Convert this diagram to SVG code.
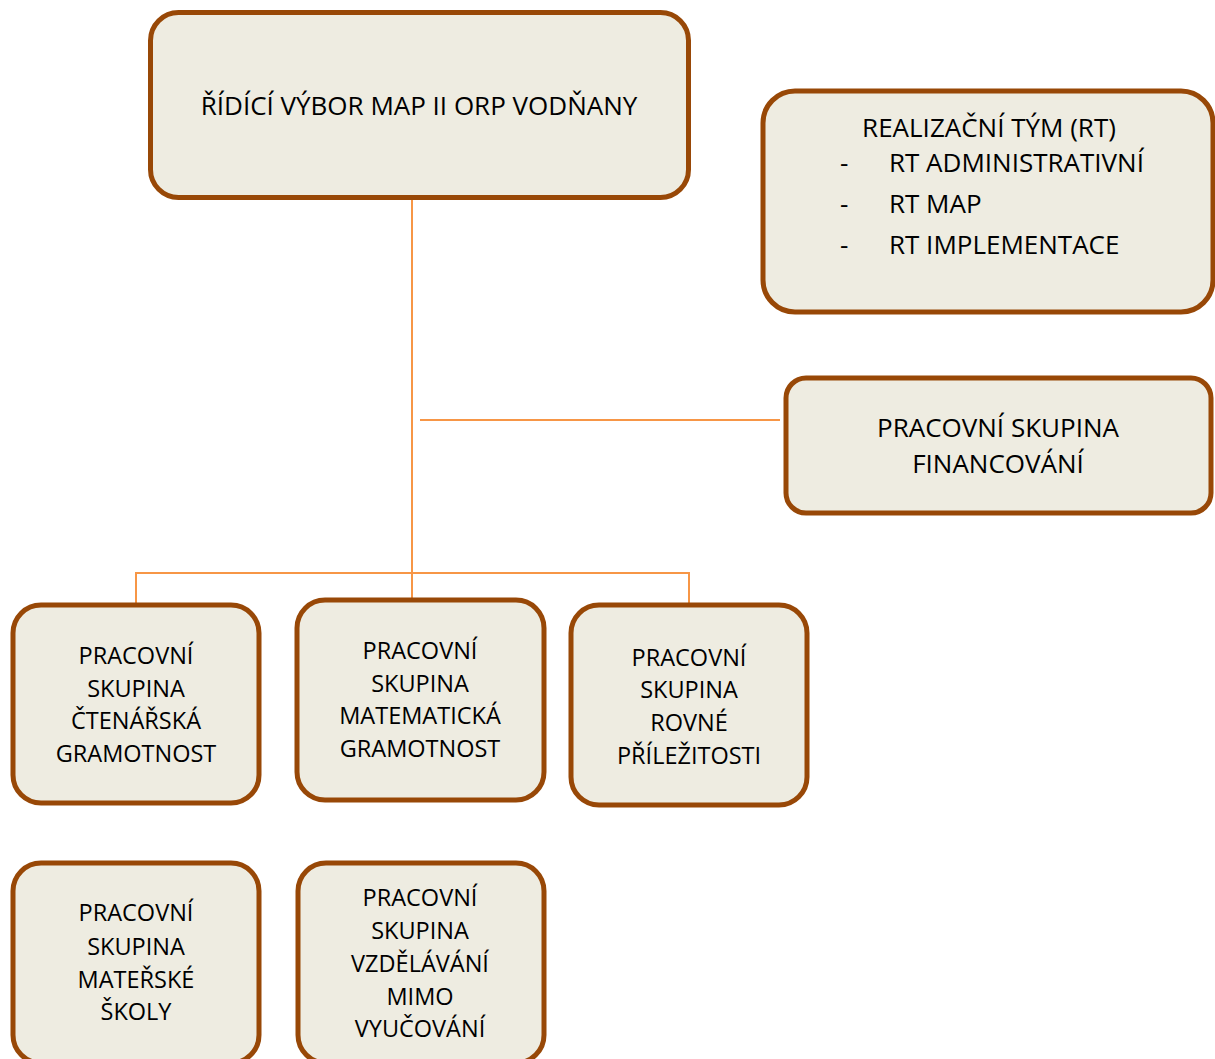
<svg xmlns="http://www.w3.org/2000/svg" width="1215" height="1059" viewBox="0 0 1215 1059">
<style>
.box{fill:#EEECE1;stroke:#984807;stroke-width:5}
.lbl{font-family:"Open Sans","Noto Sans",sans-serif;fill:#000;text-anchor:middle}
.s{font-size:23.5px}
.m{font-size:26px}
.l{font-size:26px}
.st{text-anchor:start}
.conn{stroke:#F79646;stroke-width:2;fill:none}
</style>
<rect width="1215" height="1059" fill="#fff"/>
<g id="connectors">
<line class="conn" x1="412" y1="198" x2="412" y2="598"/>
<polyline class="conn" points="136,604 136,573 689,573 689,604"/>
<line class="conn" x1="420" y1="420" x2="780" y2="420"/>
</g>
<g id="ridici-vybor">
<rect class="box" x="150.5" y="12.5" width="538" height="185" rx="28"/>
<text class="lbl l" x="419" y="115">ŘÍDÍCÍ VÝBOR MAP II ORP VODŇANY</text>
</g>
<g id="realizacni-tym">
<rect class="box" x="763" y="91" width="450" height="221" rx="32"/>
<text class="lbl m" x="989" y="137">REALIZAČNÍ TÝM (RT)</text>
<text class="lbl m st" x="840" y="172">-</text>
<text class="lbl m st" x="889" y="172">RT ADMINISTRATIVNÍ</text>
<text class="lbl m st" x="840" y="213">-</text>
<text class="lbl m st" x="889" y="213">RT MAP</text>
<text class="lbl m st" x="840" y="254">-</text>
<text class="lbl m st" x="889" y="254">RT IMPLEMENTACE</text>
</g>
<g id="ps-financovani">
<rect class="box" x="786" y="378" width="425" height="135" rx="20"/>
<text class="lbl m" x="998" y="437">PRACOVNÍ SKUPINA</text>
<text class="lbl m" x="998" y="473">FINANCOVÁNÍ</text>
</g>
<g id="ps-ctenarska">
<rect class="box" x="13" y="605" width="246" height="198" rx="28"/>
<text class="lbl s" x="136" y="664">PRACOVNÍ</text>
<text class="lbl s" x="136" y="697">SKUPINA</text>
<text class="lbl s" x="136" y="729">ČTENÁŘSKÁ</text>
<text class="lbl s" x="136" y="762">GRAMOTNOST</text>
</g>
<g id="ps-matematicka">
<rect class="box" x="297" y="600" width="247" height="200" rx="28"/>
<text class="lbl s" x="420" y="659">PRACOVNÍ</text>
<text class="lbl s" x="420" y="692">SKUPINA</text>
<text class="lbl s" x="420" y="724">MATEMATICKÁ</text>
<text class="lbl s" x="420" y="757">GRAMOTNOST</text>
</g>
<g id="ps-rovne">
<rect class="box" x="571" y="605" width="236" height="200" rx="28"/>
<text class="lbl s" x="689" y="666">PRACOVNÍ</text>
<text class="lbl s" x="689" y="698">SKUPINA</text>
<text class="lbl s" x="689" y="731">ROVNÉ</text>
<text class="lbl s" x="689" y="764">PŘÍLEŽITOSTI</text>
</g>
<g id="ps-materske">
<rect class="box" x="13" y="863" width="246" height="200" rx="28"/>
<text class="lbl s" x="136" y="921">PRACOVNÍ</text>
<text class="lbl s" x="136" y="955">SKUPINA</text>
<text class="lbl s" x="136" y="988">MATEŘSKÉ</text>
<text class="lbl s" x="136" y="1020">ŠKOLY</text>
</g>
<g id="ps-vzdelavani">
<rect class="box" x="298" y="863" width="246" height="200" rx="28"/>
<text class="lbl s" x="420" y="906">PRACOVNÍ</text>
<text class="lbl s" x="420" y="939">SKUPINA</text>
<text class="lbl s" x="420" y="972">VZDĚLÁVÁNÍ</text>
<text class="lbl s" x="420" y="1005">MIMO</text>
<text class="lbl s" x="420" y="1037">VYUČOVÁNÍ</text>
</g>
</svg>
